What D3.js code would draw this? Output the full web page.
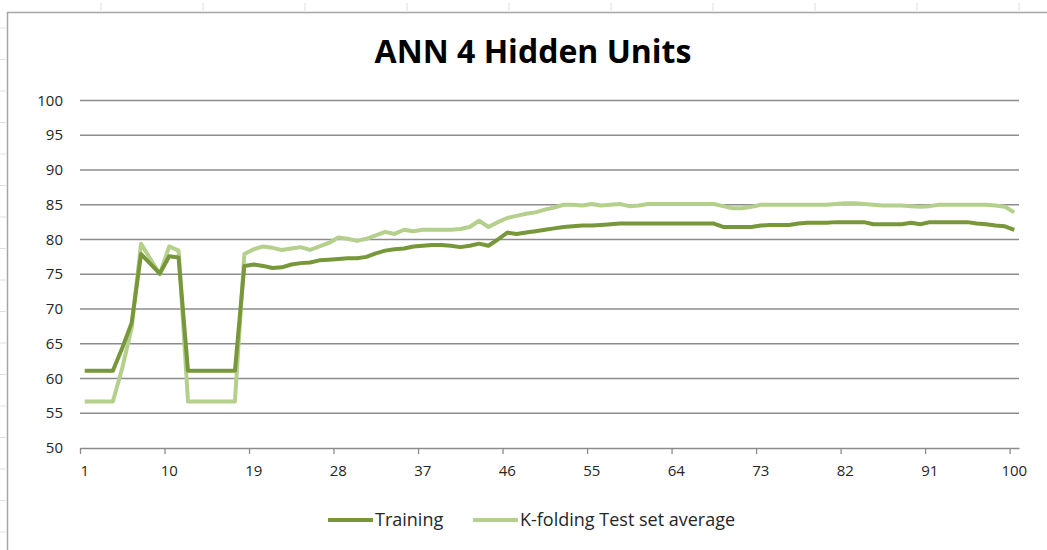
<!DOCTYPE html>
<html>
<head>
<meta charset="utf-8">
<script src="https://cdn.jsdelivr.net/npm/d3@7"></script>
<style>
  body { margin: 0; background: #fff; }
  svg { display: block; font-family: "Open Sans", sans-serif; }
  .tick-label { font-size: 15px; fill: #262626; }
</style>
</head>
<body>
<svg id="chart" width="1047" height="550"></svg>
<script>
// Epochs 1..100
const epochs = d3.range(1, 101);

const training = [
  61.1, 61.1, 61.1, 61.1, 64.4, 68.0, 77.9, 76.5, 75.1, 77.6,
  77.4, 61.1, 61.1, 61.1, 61.1, 61.1, 61.1, 76.2, 76.4, 76.2,
  75.9, 76.0, 76.4, 76.6, 76.7, 77.0, 77.1, 77.2, 77.3, 77.3,
  77.5, 78.0, 78.4, 78.6, 78.7, 79.0, 79.1, 79.2, 79.2, 79.1,
  78.9, 79.1, 79.4, 79.1, 80.0, 81.0, 80.8, 81.0, 81.2, 81.4,
  81.6, 81.8, 81.9, 82.0, 82.0, 82.1, 82.2, 82.3, 82.3, 82.3,
  82.3, 82.3, 82.3, 82.3, 82.3, 82.3, 82.3, 82.3, 81.8, 81.8,
  81.8, 81.8, 82.0, 82.1, 82.1, 82.1, 82.3, 82.4, 82.4, 82.4,
  82.5, 82.5, 82.5, 82.5, 82.2, 82.2, 82.2, 82.2, 82.4, 82.2,
  82.5, 82.5, 82.5, 82.5, 82.5, 82.3, 82.2, 82.0, 81.9, 81.4
];

const testAvg = [
  56.7, 56.7, 56.7, 56.7, 61.5, 67.3, 79.4, 77.2, 75.0, 79.0,
  78.4, 56.7, 56.7, 56.7, 56.7, 56.7, 56.7, 77.9, 78.6, 79.0,
  78.8, 78.5, 78.7, 78.9, 78.5, 79.0, 79.5, 80.3, 80.1, 79.8,
  80.1, 80.6, 81.1, 80.8, 81.4, 81.2, 81.4, 81.4, 81.4, 81.4,
  81.5, 81.8, 82.7, 81.8, 82.5, 83.1, 83.4, 83.7, 83.9, 84.3,
  84.6, 85.0, 85.0, 84.9, 85.1, 84.9, 85.0, 85.1, 84.8, 84.9,
  85.1, 85.1, 85.1, 85.1, 85.1, 85.1, 85.1, 85.1, 84.8, 84.5,
  84.5, 84.7, 85.0, 85.0, 85.0, 85.0, 85.0, 85.0, 85.0, 85.0,
  85.1, 85.2, 85.2, 85.1, 85.0, 84.9, 84.9, 84.9, 84.8, 84.7,
  84.8, 85.0, 85.0, 85.0, 85.0, 85.0, 85.0, 84.9, 84.7, 83.9
];

const xTickLabels = [1, 10, 19, 28, 37, 46, 55, 64, 73, 82, 91, 100];
const yTicks = [50, 55, 60, 65, 70, 75, 80, 85, 90, 95, 100];
const seriesNames = ["Training", "K-folding Test set average"];
const seriesColors = ["#77973a", "#b5cf8c"];

const svg = d3.select("#chart");

// chart frame (spreadsheet border + cell ticks)
svg.append("line").attr("x1", 7).attr("x2", 1047).attr("y1", 12.5).attr("y2", 12.5)
    .attr("stroke", "#a6a6a6").attr("stroke-width", 1.5);
svg.append("line").attr("x1", 7.5).attr("x2", 7.5).attr("y1", 12).attr("y2", 550)
    .attr("stroke", "#a6a6a6").attr("stroke-width", 1.5);
d3.range(101, 1047, 102).forEach(function(x) {
    svg.append("line").attr("x1", x).attr("x2", x).attr("y1", 3).attr("y2", 11)
        .attr("stroke", "#e0e0e0");
});
d3.range(28, 550, 31.5).forEach(function(y) {
    svg.append("line").attr("x1", 0).attr("x2", 6).attr("y1", y).attr("y2", y)
        .attr("stroke", "#e0e0e0");
});

const x = d3.scaleLinear().domain([0.5, 100.5]).range([80, 1019]);
const y = d3.scaleLinear().domain([50, 100]).range([448, 100.5]);

// gridlines
svg.append("g")
    .selectAll("line")
    .data(yTicks.filter(d => d > 50))
    .enter()
    .append("line")
    .attr("x1", 80).attr("x2", 1019)
    .attr("y1", d => y(d)).attr("y2", d => y(d))
    .attr("stroke", "#8c8c8c").attr("stroke-width", 1.3);

// y axis labels
svg.append("g")
    .selectAll("text")
    .data(yTicks)
    .enter()
    .append("text")
    .attr("class", "tick-label")
    .attr("x", 63)
    .attr("y", d => y(d) + 5)
    .attr("text-anchor", "end")
    .text(d => d);

// x axis: tick marks on category boundaries, labels on category centres
const xAxis = d3.axisBottom(x)
    .tickValues(xTickLabels.map(d => d - 0.5))
    .tickSize(6)
    .tickSizeOuter(0)
    .tickFormat("");
const gx = svg.append("g").attr("transform", "translate(0,448)").call(xAxis);
gx.select(".domain").attr("stroke", "#8c8c8c").attr("stroke-width", 1.3);
gx.selectAll(".tick line").attr("stroke", "#8c8c8c").attr("stroke-width", 1.3);

svg.append("g")
    .selectAll("text")
    .data(xTickLabels)
    .enter()
    .append("text")
    .attr("class", "tick-label")
    .attr("x", d => x(d))
    .attr("y", 476)
    .attr("text-anchor", "middle")
    .text(d => d);

// lines
const line = d3.line()
    .x((d, i) => x(epochs[i]))
    .y(d => y(d))
    .curve(d3.curveLinear);

[testAvg, training].forEach(function(series, k) {
    svg.append("path")
        .datum(series)
        .attr("fill", "none")
        .attr("stroke", seriesColors[1 - k])
        .attr("stroke-width", 4)
        .attr("stroke-linejoin", "round")
        .attr("d", line);
});

// title
svg.append("text")
    .attr("x", 533)
    .attr("y", 63)
    .attr("text-anchor", "middle")
    .style("font-size", "32px")
    .style("font-weight", "bold")
    .style("fill", "#000")
    .text("ANN 4 Hidden Units");

// legend
const legendX = [328, 473];
seriesNames.forEach(function(name, i) {
    svg.append("line")
        .attr("x1", legendX[i]).attr("x2", legendX[i] + 45)
        .attr("y1", 520).attr("y2", 520)
        .attr("stroke", seriesColors[i]).attr("stroke-width", 4);
    svg.append("text")
        .attr("x", legendX[i] + 47)
        .attr("y", 526)
        .style("font-size", "18px")
        .style("fill", "#262626")
        .text(name);
});
</script>
</body>
</html>
